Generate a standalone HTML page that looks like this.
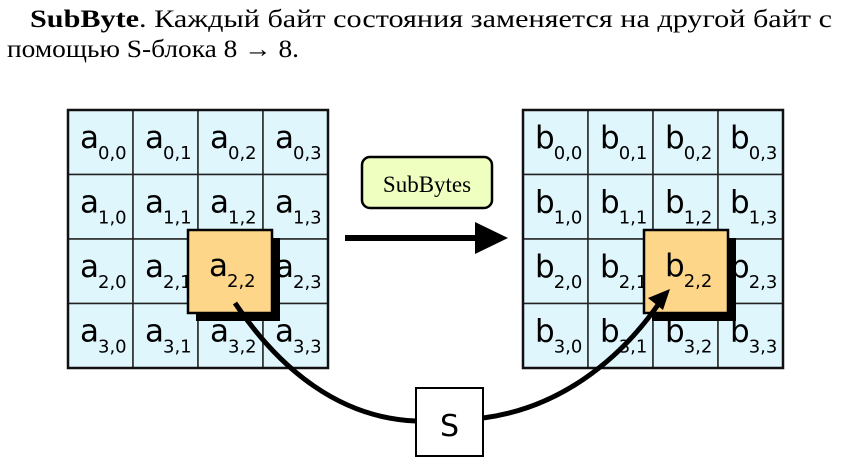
<!DOCTYPE html>
<html><head><meta charset="utf-8"><style>
html,body{margin:0;padding:0;background:#fff;width:866px;height:468px;overflow:hidden}
</style></head><body>
<svg width="866" height="468" viewBox="0 0 866 468" xmlns="http://www.w3.org/2000/svg">
<g font-family="Liberation Serif, serif" font-size="25" fill="#000">
<text x="30" y="27" textLength="802" lengthAdjust="spacingAndGlyphs"><tspan font-weight="bold">SubByte</tspan>. Каждый байт состояния заменяется на другой байт с</text>
<text x="7" y="57" textLength="292" lengthAdjust="spacingAndGlyphs">помощью S-блока 8 → 8.</text>
</g>
<g id="grids"></g>
<g>
<rect x="362" y="157" width="130" height="51" rx="8" fill="#eeffc0" stroke="#000" stroke-width="2.5"/>
<text x="427" y="192" text-anchor="middle" font-family="Liberation Serif, serif" font-size="23">SubBytes</text>
</g>
<g>
<line x1="345" y1="238" x2="478" y2="238" stroke="#000" stroke-width="6"/>
<polygon points="475,222 508,238 475,254" fill="#000"/>
</g>
<path d="M235,303 C280,370 340,418 416,421" fill="none" stroke="#000" stroke-width="5"/>
<path d="M483,418 C560,408 620,360 660,302" fill="none" stroke="#000" stroke-width="5"/>
<polygon points="670,289 648,298 663,310" fill="#000"/>
<g>
<rect x="416" y="388" width="67" height="68" fill="#fff" stroke="#000" stroke-width="2"/>
<text x="449.5" y="436" text-anchor="middle" font-family="DejaVu Sans, sans-serif" font-size="30">S</text>
</g>
</svg>
<script>
const grids=[{letter:'a',x:68,hx:188},{letter:'b',x:523,hx:644}];
const cols=[0,1,2,3], rows=[0,1,2,3];
const NS='http://www.w3.org/2000/svg';
const root=document.getElementById('grids');
const cw=65, ch=64.5, gridTop=110;
function mk(t,a){const e=document.createElementNS(NS,t);for(const k in a)e.setAttribute(k,a[k]);return e;}
grids.forEach(g=>{
  const G=mk('g',{});
  
  
  rows.forEach(r=>cols.forEach(c=>{
    const x=g.x+c*cw, y=gridTop+r*ch;
    const cell=mk('g',{});
    
    
    cell.appendChild(mk('rect',{x:x,y:y,width:cw,height:ch,fill:'#e0f6fd',stroke:'#222','stroke-width':1.5}));
    const t=mk('text',{x:x+12,y:y+38,'font-family':'DejaVu Sans, sans-serif','font-size':31});
    t.textContent=g.letter;
    const s=mk('tspan',{'font-size':18,dy:11,dx:-1});
    s.textContent=r+','+c;
    t.appendChild(s);
    cell.appendChild(t);
    G.appendChild(cell);
  }));
  G.appendChild(mk('rect',{x:g.x,y:gridTop,width:cw*4,height:ch*4,fill:'none',stroke:'#111','stroke-width':2.5}));
  const hl=mk('g',{});
  
  
  hl.appendChild(mk('rect',{x:g.hx+8,y:238,width:84,height:83,fill:'#000'}));
  hl.appendChild(mk('rect',{x:g.hx,y:230,width:84,height:83,fill:'#fed68a',stroke:'#000','stroke-width':2.5}));
  const t=mk('text',{x:g.hx+21,y:230+46,'font-family':'DejaVu Sans, sans-serif','font-size':31});
  t.textContent=g.letter;
  const s=mk('tspan',{'font-size':18,dy:11,dx:-1});s.textContent='2,2';t.appendChild(s);
  hl.appendChild(t);
  G.appendChild(hl);
  root.appendChild(G);
});
</script>
</body></html>
